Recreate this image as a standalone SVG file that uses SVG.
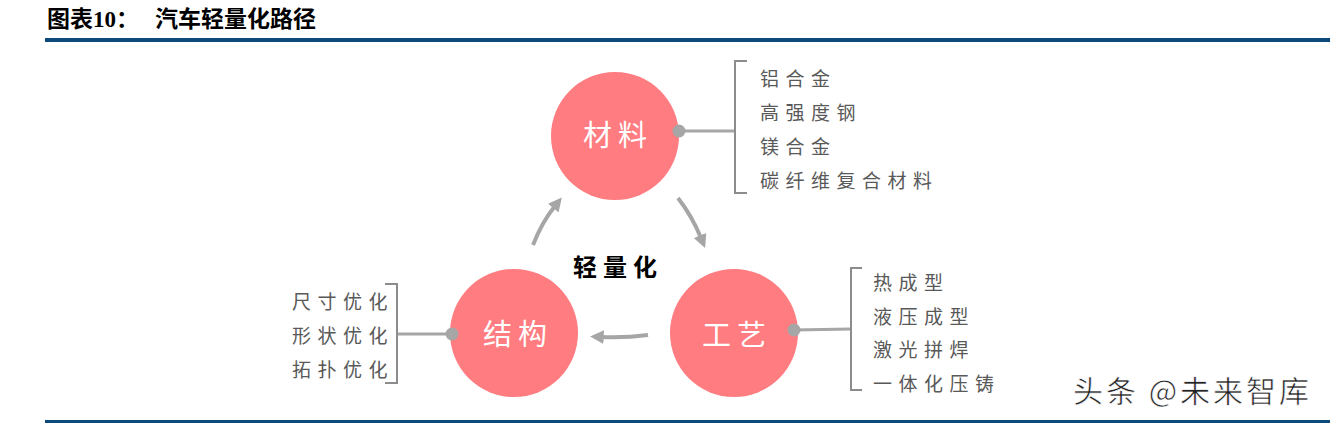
<svg xmlns="http://www.w3.org/2000/svg" width="1330" height="424" viewBox="0 0 1330 424">
<defs>
<style>
.title{font-family:"Liberation Sans","Noto Sans CJK SC",sans-serif;font-weight:bold;font-size:23px;fill:#000}
.circle{fill:#ff7c80}
.clabel{font-family:"Noto Sans CJK SC",sans-serif;font-size:29px;fill:#fff;letter-spacing:6px;text-anchor:middle;dominant-baseline:central}
.item{font-family:"Noto Sans CJK SC",sans-serif;font-size:19px;fill:#595959;letter-spacing:6.5px;dominant-baseline:central}
.conn{stroke:#a6a6a6;stroke-width:3;fill:none}
.dot{fill:#a6a6a6}
.bracket{stroke:#8c8c8c;stroke-width:2;fill:none}
.arrow{stroke:#a6a6a6;stroke-width:4;fill:none;marker-end:url(#ah)}
</style>
<marker id="ah" viewBox="0 0 10 10" refX="2" refY="5" markerWidth="3.4" markerHeight="3.4" orient="auto" markerUnits="strokeWidth">
<path d="M0,0 L10,5 L0,10 z" fill="#a6a6a6"/>
</marker>
</defs>
<rect width="1330" height="424" fill="#fff"/>
<g id="title">
<text x="47" y="27" class="title">图表<tspan font-family="Liberation Serif,serif">10</tspan>：</text>
<text x="155" y="27" class="title">汽车轻量化路径</text>
<rect x="45" y="38" width="1285" height="4" fill="#0d4a7b"/>
<rect x="45" y="420" width="1285" height="3" fill="#0d4a7b"/>
</g>
<g id="connectors">
<path class="arrow" d="M533,245 Q542,222 555,206"/>
<path class="arrow" d="M678,198 Q692,216 701,238"/>
<path class="arrow" d="M648,335 Q625,338 601,337"/>
<line class="conn" x1="679" y1="131" x2="734" y2="131"/>
<line class="conn" x1="452" y1="334" x2="397" y2="334"/>
<line class="conn" x1="794" y1="330" x2="851" y2="329"/>
</g>
<g id="center-label">
<text x="618" y="265" font-family="Noto Sans CJK SC,sans-serif" font-size="24" font-weight="bold" fill="#000" text-anchor="middle" dominant-baseline="central" letter-spacing="6">轻量化</text>
</g>
<g id="node-material">
<circle class="circle" cx="615" cy="136" r="64"/>
<text class="clabel" x="618" y="133">材料</text>
<circle class="dot" cx="679" cy="131" r="6.5"/>
<path class="bracket" d="M747,61 H735 V193 H747"/>
<text class="item" x="760" y="77">铝合金</text>
<text class="item" x="760" y="111">高强度钢</text>
<text class="item" x="760" y="145">镁合金</text>
<text class="item" x="760" y="179">碳纤维复合材料</text>
</g>
<g id="node-structure">
<circle class="circle" cx="514" cy="333" r="64"/>
<text class="clabel" x="518" y="332">结构</text>
<circle class="dot" cx="452" cy="334" r="6.5"/>
<path class="bracket" d="M385,284 H397 V383 H385"/>
<text class="item" x="292" y="300">尺寸优化</text>
<text class="item" x="292" y="334">形状优化</text>
<text class="item" x="292" y="368">拓扑优化</text>
</g>
<g id="node-process">
<circle class="circle" cx="734" cy="333" r="64"/>
<text class="clabel" x="737" y="333">工艺</text>
<circle class="dot" cx="794" cy="330" r="6.5"/>
<path class="bracket" d="M862,268 H851 V390 H862"/>
<text class="item" x="873" y="281">热成型</text>
<text class="item" x="873" y="315">液压成型</text>
<text class="item" x="873" y="348">激光拼焊</text>
<text class="item" x="873" y="382">一体化压铸</text>
</g>
<g id="watermark">
<text x="1073" y="402" font-family="Noto Sans CJK SC,sans-serif" font-size="30" letter-spacing="3" fill="#222" stroke="#fff" stroke-width="0.6">头条 @未来智库</text>
</g>
</svg>
